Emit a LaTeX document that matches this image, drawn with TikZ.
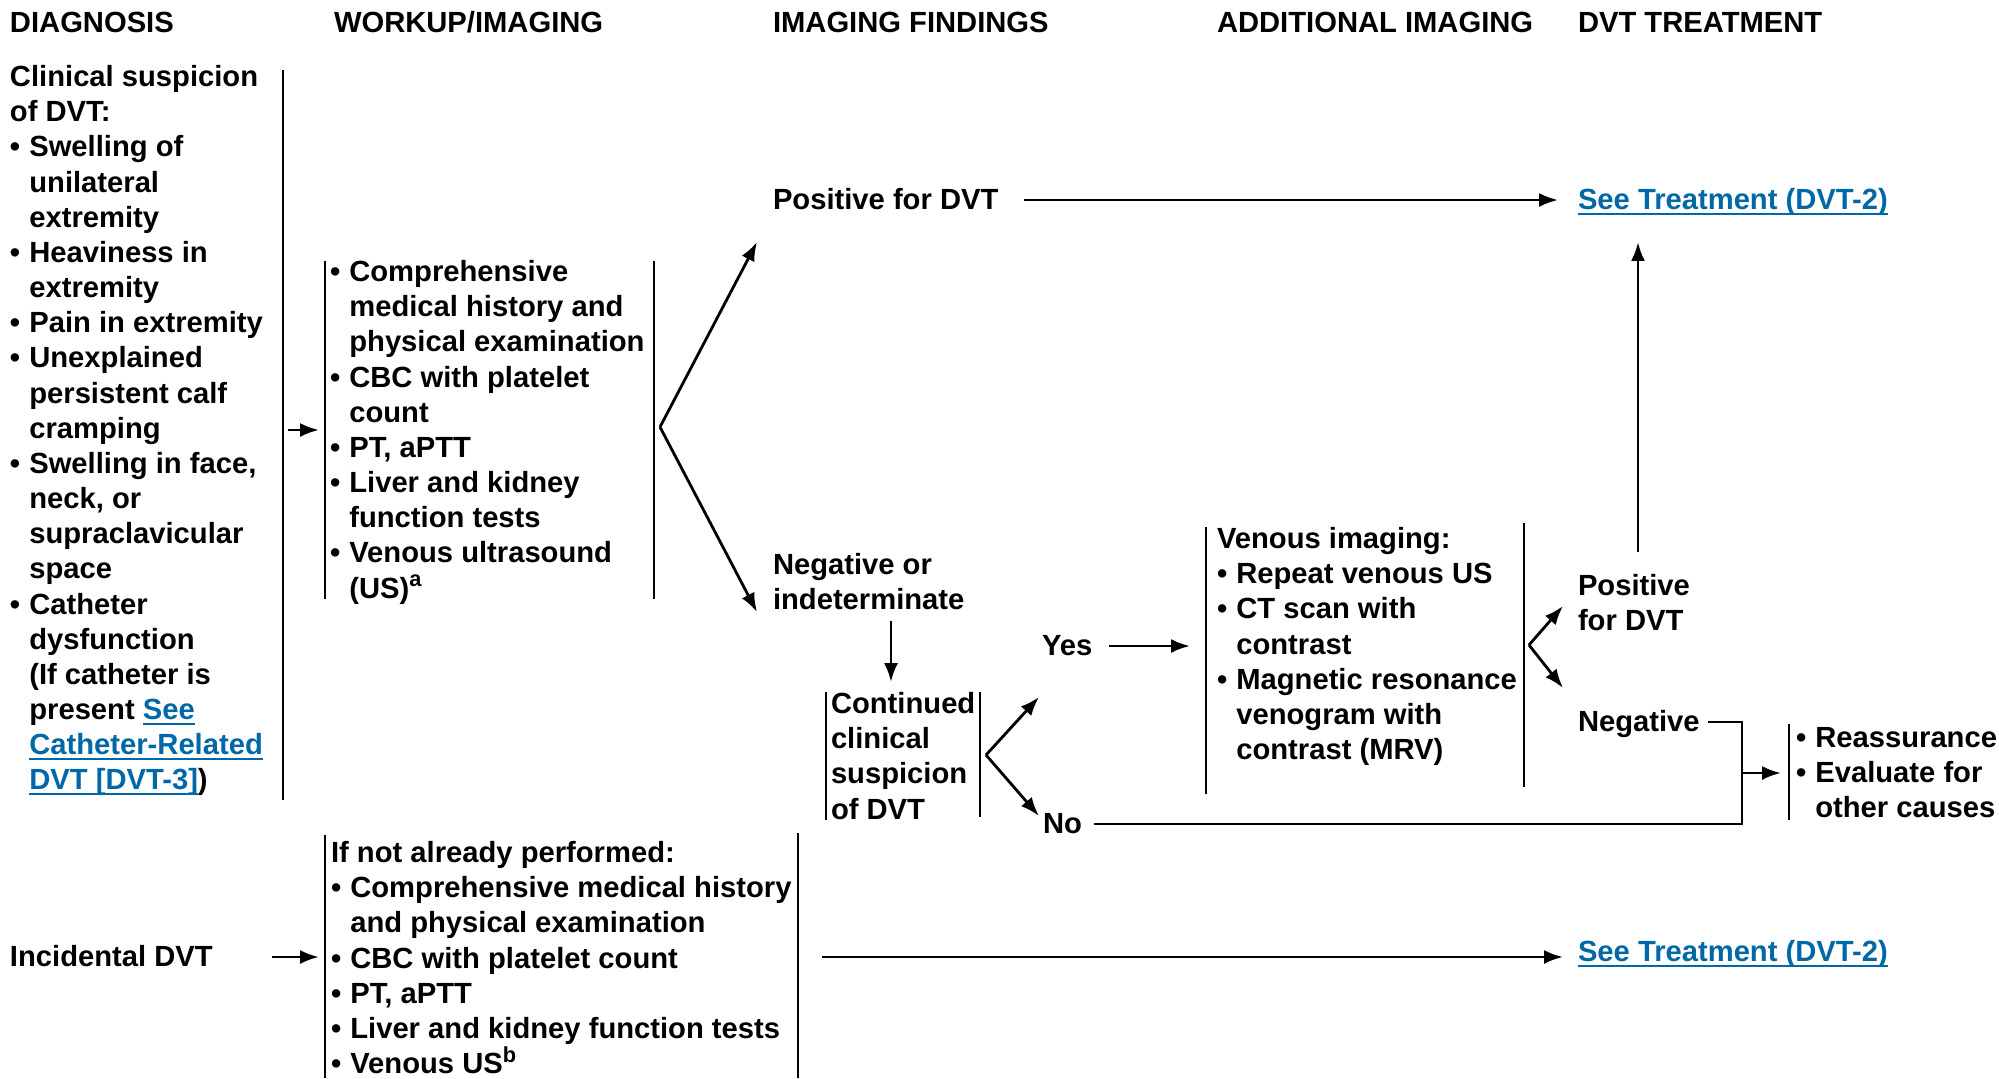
\documentclass[tikz,border=0pt]{standalone}
\usepackage{fontspec}
\setmainfont{Liberation Sans}
\usetikzlibrary{arrows.meta}
\definecolor{lnkblue}{RGB}{0,104,167}
\newcommand\bfnt{\fontsize{8.3}{10}\selectfont\bfseries}
\newcommand\bitem{\makebox[5.5pt][l]{\textbullet}}
\newcommand\bcont{\hspace*{5.5pt}}
\newcommand\supr[1]{\raisebox{3.2pt}{\fontsize{6.2}{6.2}\selectfont #1}}
\newsavebox\lnkbox
\newcommand\lnk[1]{{\color{lnkblue}\sbox\lnkbox{#1}\rlap{\rule[-1.4pt]{\wd\lnkbox}{0.5pt}}\usebox\lnkbox}}
\tikzset{
  txt/.style={anchor=north west, inner sep=0pt, outer sep=0pt, align=left, font=\bfnt},
  bar/.style={line width=0.75pt},
  ln/.style={line width=0.8pt},
  arr/.style={line width=0.8pt, -{Latex[length=5.4pt,width=4pt]}},
}
\begin{document}
\begin{tikzpicture}[x=0.01cm,y=-0.01cm]
\useasboundingbox (0,0) rectangle (1999,1078);
% headers
\node[txt] (h1) at (10,8) {\strut DIAGNOSIS};
\node[txt] (h2) at (334,8) {\strut WORKUP/IMAGING};
\node[txt] (h3) at (773,8) {\strut IMAGING FINDINGS};
\node[txt] (h4) at (1217,8) {\strut ADDITIONAL IMAGING};
\node[txt] (h5) at (1578,8) {\strut DVT TREATMENT};
% clinical suspicion
\node[txt] (clin) at (10,62) {\strut Clinical suspicion\\
of DVT:\\
\bitem Swelling of\\
\bcont unilateral\\
\bcont extremity\\
\bitem Heaviness in\\
\bcont extremity\\
\bitem Pain in extremity\\
\bitem Unexplained\\
\bcont persistent calf\\
\bcont cramping\\
\bitem Swelling in face,\\
\bcont neck, or\\
\bcont supraclavicular\\
\bcont space\\
\bitem Catheter\\
\bcont dysfunction\\
\bcont (If catheter is\\
\bcont present \lnk{See}\\
\bcont \lnk{Catheter-Related}\\
\bcont \lnk{DVT [DVT-3]})};
\draw[bar] (283,70) -- (283,800);
\coordinate (c1) at (288,430);
\coordinate (c2) at (319,430);
\draw[arr] (c1) -- (c2);
% workup
\node[txt] (wk) at (330,257) {\strut\bitem Comprehensive\\
\bcont medical history and\\
\bcont physical examination\\
\bitem CBC with platelet\\
\bcont count\\
\bitem PT, aPTT\\
\bitem Liver and kidney\\
\bcont function tests\\
\bitem Venous ultrasound\\
\bcont (US)\supr{a}};
\draw[bar] (325,261) -- (325,599);
\draw[bar] (654,261) -- (654,599);
\coordinate (br1) at (660,427);
\coordinate (br1u) at (757,242);
\coordinate (br1d) at (757,612);
\draw[arr] (br1) -- (br1u);
\draw[arr] (br1) -- (br1d);
% imaging findings
\node[txt] (pos) at (773,185) {\strut Positive for DVT};
\coordinate (p1) at (1024,200);
\coordinate (p2) at (1558,200);
\draw[arr] (p1) -- (p2);
\node[txt] (tx1) at (1578,185) {\strut\lnk{See Treatment (DVT-2)}};
\node[txt] (neg) at (773,550) {\strut Negative or\\indeterminate};
\coordinate (n1) at (891,621);
\coordinate (n2) at (891,682);
\draw[arr] (n1) -- (n2);
\node[txt] (cont) at (831,689) {\strut Continued\\clinical\\suspicion\\of DVT};
\draw[bar] (826,692) -- (826,820);
\draw[bar] (980,692) -- (980,817);
\coordinate (br2) at (986,755);
\coordinate (br2u) at (1039,697);
\coordinate (br2d) at (1039,816);
\draw[arr] (br2) -- (br2u);
\draw[arr] (br2) -- (br2d);
\node[txt] (yes) at (1042,631) {\strut Yes};
\coordinate (y1) at (1109,646);
\coordinate (y2) at (1190,646);
\draw[arr] (y1) -- (y2);
\node[txt] (no) at (1043,809) {\strut No};
% additional imaging
\node[txt] (ven) at (1217,524) {\strut Venous imaging:\\
\bitem Repeat venous US\\
\bitem CT scan with\\
\bcont contrast\\
\bitem Magnetic resonance\\
\bcont venogram with\\
\bcont contrast (MRV)};
\draw[bar] (1206,527) -- (1206,794);
\draw[bar] (1524,523) -- (1524,787);
\coordinate (br3) at (1529,645);
\coordinate (br3u) at (1563,606);
\coordinate (br3d) at (1563,688);
\draw[arr] (br3) -- (br3u);
\draw[arr] (br3) -- (br3d);
\node[txt] (pos2) at (1578,571) {\strut Positive\\for DVT};
\node[txt] (neg2) at (1578,707) {\strut Negative};
\coordinate (u1) at (1638,552);
\coordinate (u2) at (1638,242);
\draw[arr] (u1) -- (u2);
\coordinate (ng1) at (1708,722);
\coordinate (jn) at (1742,722);
\coordinate (jn2) at (1742,824);
\coordinate (no1) at (1094,824);
\draw[ln] (ng1) -- (jn) -- (jn2) -- (no1);
\coordinate (ja) at (1742,773);
\coordinate (jb) at (1781,773);
\draw[arr] (ja) -- (jb);
\node[txt] (reas) at (1796,723) {\strut\bitem Reassurance\\
\bitem Evaluate for\\
\bcont other causes};
\draw[bar] (1789,724) -- (1789,820);
% incidental
\node[txt] (inc) at (10,942) {\strut Incidental DVT};
\coordinate (i1) at (272,957);
\coordinate (i2) at (319,957);
\draw[arr] (i1) -- (i2);
\node[txt] (wk2) at (331,838) {\strut If not already performed:\\
\bitem Comprehensive medical history\\
\bcont and physical examination\\
\bitem CBC with platelet count\\
\bitem PT, aPTT\\
\bitem Liver and kidney function tests\\
\bitem Venous US\supr{b}};
\draw[bar] (325,835) -- (325,1078);
\draw[bar] (798,833) -- (798,1078);
\coordinate (w1) at (822,957);
\coordinate (w2) at (1563,957);
\draw[arr] (w1) -- (w2);
\node[txt] (tx2) at (1578,937) {\strut\lnk{See Treatment (DVT-2)}};
\end{tikzpicture}
\end{document}
